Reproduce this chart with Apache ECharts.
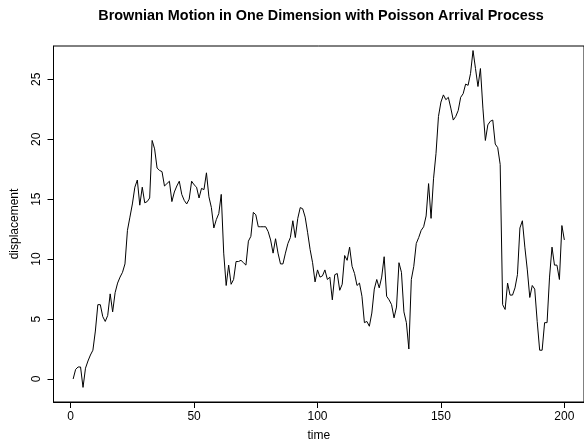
<!DOCTYPE html>
<html>
<head>
<meta charset="utf-8">
<script src="https://cdn.jsdelivr.net/npm/echarts@6/dist/echarts.min.js"></script>
<style>
html,body{margin:0;padding:0;background:#fff;}
#chart{width:584px;height:447px;}
</style>
</head>
<body>
<div id="chart"></div>
<script>
// Data
var times = [];
for (var i = 1; i <= 200; i++) times.push(i);
var displacement = [
  0.0, 0.8, 1.0, 1.0, -0.7, 0.9, 1.5, 2.0, 2.4, 4.0,
  6.2, 6.2, 5.2, 4.8, 5.3, 7.1, 5.6, 7.2, 8.0, 8.5,
  8.9, 9.6, 12.4, 13.5, 14.6, 16.0, 16.6, 14.5, 16.0, 14.7,
  14.8, 15.1, 19.9, 19.2, 17.6, 17.4, 17.3, 16.1, 16.3, 16.5,
  14.8, 15.6, 16.1, 16.5, 15.4, 14.9, 14.6, 15.0, 16.5, 16.2,
  16.0, 15.1, 15.9, 15.8, 17.2, 15.2, 14.3, 12.6, 13.3, 13.8,
  15.4, 10.5, 7.8, 9.5, 7.9, 8.3, 9.8, 9.8, 9.9, 9.7,
  9.5, 11.5, 11.9, 13.9, 13.7, 12.7, 12.7, 12.7, 12.7, 12.3,
  11.6, 10.5, 11.7, 10.5, 9.6, 9.6, 10.5, 11.3, 11.8, 13.2,
  11.8, 13.4, 14.3, 14.2, 13.5, 12.2, 10.8, 9.7, 8.1, 9.1,
  8.5, 8.6, 9.1, 8.3, 8.5, 6.6, 8.7, 8.8, 7.4, 7.9,
  10.3, 9.9, 11.0, 9.4, 8.8, 7.8, 8.0, 6.9, 4.7, 4.8,
  4.4, 5.5, 7.5, 8.3, 7.6, 8.5, 10.2, 6.9, 6.6, 6.2,
  5.1, 6.0, 9.7, 8.9, 5.6, 4.7, 2.5, 8.3, 9.4, 11.3,
  11.8, 12.4, 12.7, 13.6, 16.3, 13.4, 16.7, 18.8, 21.9, 23.1,
  23.7, 23.3, 23.5, 22.6, 21.6, 21.9, 22.4, 23.5, 23.8, 24.6,
  24.5, 25.5, 27.4, 25.9, 24.4, 25.9, 22.6, 19.9, 21.2, 21.5,
  21.6, 19.6, 19.3, 17.9, 6.2, 5.8, 8.0, 7.0, 7.0, 7.6,
  8.7, 12.6, 13.2, 11.0, 9.1, 6.8, 7.8, 7.5, 4.8, 2.4,
  2.4, 4.7, 4.7, 8.5, 11.0, 9.5, 9.5, 8.3, 12.8, 11.6
];
var xTicks = [0, 50, 100, 150, 200];
var yTicks = [0, 5, 10, 15, 20, 25];
var titleText = 'Brownian Motion in One Dimension with Poisson Arrival Process';

var FONT = "'Liberation Sans', Arial, Helvetica, sans-serif";
var TICK_LEN = 6;
var pts = times.map(function (t, i) { return [t, displacement[i]]; });

var chart = echarts.init(document.getElementById('chart'), null, {renderer: 'canvas'});
chart.setOption({
  backgroundColor: '#ffffff',
  animation: false,
  graphic: [{
    type: 'text',
    style: {
      text: titleText,
      x: 321, y: 16,
      textAlign: 'center', textVerticalAlign: 'middle',
      font: 'bold 14.4px ' + FONT,
      fill: '#000'
    }
  }],
  grid: {
    left: 53.5, right: -6.5, top: 46, bottom: 45,
    show: true, borderColor: '#000', borderWidth: 1,
    backgroundColor: 'transparent'
  },
  xAxis: {
    type: 'value',
    min: -6.96, max: 207.96,
    name: 'time',
    nameLocation: 'middle',
    nameGap: 28,
    nameTextStyle: {fontFamily: FONT, fontSize: 12, color: '#000'},
    axisLine: {show: true, onZero: false, lineStyle: {color: '#000', width: 1}},
    splitLine: {show: false},
    axisTick: {show: true, inside: false, length: TICK_LEN, customValues: xTicks, lineStyle: {color: '#000', width: 1}},
    axisLabel: {show: true, customValues: xTicks, margin: 9, fontFamily: FONT, fontSize: 12, color: '#000'}
  },
  yAxis: {
    type: 'value',
    min: -1.92, max: 27.78,
    name: 'displacement',
    nameLocation: 'middle',
    nameGap: 33,
    nameTextStyle: {fontFamily: FONT, fontSize: 12, color: '#000'},
    axisLine: {show: true, onZero: false, lineStyle: {color: '#000', width: 1}},
    splitLine: {show: false},
    axisTick: {show: true, inside: false, length: TICK_LEN, customValues: yTicks, lineStyle: {color: '#000', width: 1}},
    axisLabel: {show: true, customValues: yTicks, rotate: 90, margin: 11,
      align: 'center', verticalAlign: 'bottom',
      fontFamily: FONT, fontSize: 12, color: '#000'}
  },
  series: [{
    type: 'line',
    data: pts,
    showSymbol: false,
    symbol: 'none',
    lineStyle: {color: '#000', width: 1},
    clip: true
  }]
});
</script>
</body>
</html>
